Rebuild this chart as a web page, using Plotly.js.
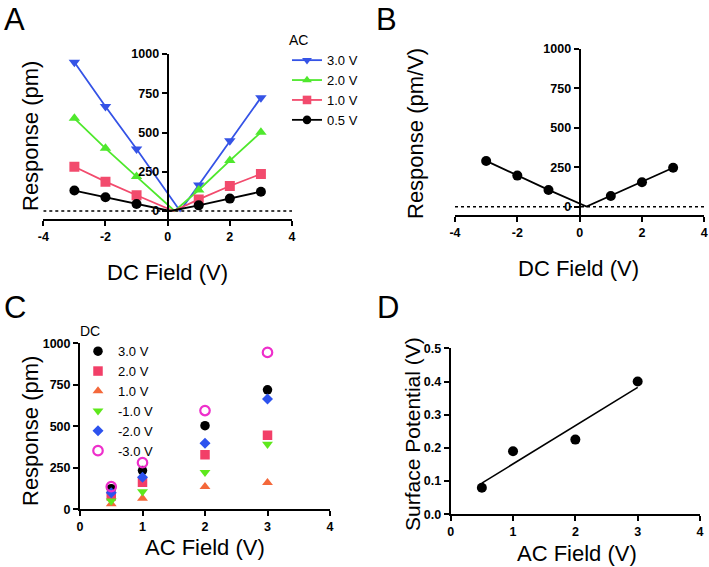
<!DOCTYPE html>
<html>
<head>
<meta charset="utf-8">
<script src="https://cdn.plot.ly/plotly-3.0.1.min.js"></script>
<style>html,body{margin:0;padding:0;background:#fff;}#chart{width:709px;height:567px;}</style>
</head>
<body>
<div id="chart"></div>
<script>
// ---------- DATA ----------
const dcField = [-3, -2, -1, 1, 2, 3];           // DC field (V), panels A & B
const acField = [0.5, 1, 2, 3];                  // AC field (V), panels C & D
const acLabels = ["3.0 V", "2.0 V", "1.0 V", "0.5 V"];
const acValues = [3.0, 2.0, 1.0, 0.5];
// Panel A: response (pm) vs DC field, one series per AC amplitude
const respAC30 = [947, 665, 395, 166, 448, 722];
const respAC20 = [590, 399, 219, 134, 321, 501];
const respAC10 = [282, 187, 100, 74, 159, 236];
const respAC05 = [130, 87, 45, 36, 79, 123];
// Panel D: surface potential (V) vs AC field (also the zero-response DC point in A)
const surfacePotential = [0.08, 0.19, 0.225, 0.40];   // for AC 0.5, 1, 2, 3 V
// Panel B: normalised response (pm/V) vs DC field
const respNorm = [290, 197, 106, 68, 155, 247];
const respNormZeroX = 0.22;
// Panel C: response (pm) vs AC field, one series per DC bias
const dcLabels = ["3.0 V", "2.0 V", "1.0 V", "-1.0 V", "-2.0 V", "-3.0 V"];
const respDC30  = [124, 233, 504, 720];
const respDC20  = [80, 163, 329, 446];
const respDC10  = [32, 66, 136, 160];
const respDCm10 = [50, 106, 223, 392];
const respDCm20 = [100, 193, 398, 665];
const respDCm30 = [136, 281, 595, 945];
// tick values
const ticksDC = [-4, -2, 0, 2, 4];
const ticksAC = [0, 1, 2, 3, 4];
const ticksResp = [0, 250, 500, 750, 1000];
const ticksSP = [0, 0.1, 0.2, 0.3, 0.4, 0.5];

// ---------- LAYOUT HELPERS ----------
const W = 709, H = 567;
const fx = p => p / W;
const fy = p => 1 - p / H;
const FONT = "Liberation Sans, Arial, Helvetica, sans-serif";

// insert the zero-response point (DC = surface potential) between -1 and 1
function withZero(xs, ys, zx) {
  const X = [], Y = [], S = [];
  xs.forEach((x, i) => {
    if (i === 3) { X.push(zx); Y.push(0); S.push(0); }
    X.push(x); Y.push(ys[i]); S.push(10);
  });
  return {X, Y, S};
}
const spByAC = {3.0: surfacePotential[3], 2.0: surfacePotential[2], 1.0: surfacePotential[1], 0.5: surfacePotential[0]};

const aSeries = [respAC30, respAC20, respAC10, respAC05];
const aColors = ["#3553e6", "#4fe82d", "#f24b6d", "#000000"];
const aSymbols = ["triangle-down", "triangle-up", "square", "circle"];

const traces = [];
aSeries.forEach((ys, k) => {
  const d = withZero(dcField, ys, spByAC[acValues[k]]);
  traces.push({
    x: d.X, y: d.Y, name: acLabels[k], type: "scatter", mode: "lines+markers",
    xaxis: "x", yaxis: "y", legend: "legend",
    line: {color: aColors[k], width: 1.8},
    marker: {color: aColors[k], symbol: aSymbols[k], size: d.S, opacity: 1, line: {width: 0}}
  });
});

// Panel B
const dB = withZero(dcField, respNorm, respNormZeroX);
traces.push({
  x: dB.X, y: dB.Y, type: "scatter", mode: "lines+markers", showlegend: false,
  xaxis: "x2", yaxis: "y2",
  line: {color: "#000", width: 1.8},
  marker: {color: "#000", symbol: "circle", size: dB.S, opacity: 1, line: {width: 0}}
});

// Panel C
const cSeries = [respDC30, respDC20, respDC10, respDCm10, respDCm20, respDCm30];
const cColors = ["#000000", "#f23f68", "#f4683a", "#5ee81c", "#2d52ee", "#ee2fcb"];
const cSymbols = ["circle", "square", "triangle-up", "triangle-down", "diamond", "circle-open"];
cSeries.forEach((ys, k) => {
  traces.push({
    x: acField, y: ys, name: dcLabels[k], type: "scatter", mode: "markers",
    xaxis: "x3", yaxis: "y3", legend: "legend2",
    marker: {color: cColors[k], symbol: cSymbols[k], size: k === 4 ? 8.5 : 9.5, opacity: 1,
             line: {color: cColors[k], width: k === 5 ? 2.2 : 0}}
  });
});

// Panel D: points + least-squares line
const n = acField.length;
const mx = acField.reduce((a, b) => a + b, 0) / n;
const my = surfacePotential.reduce((a, b) => a + b, 0) / n;
let sxy = 0, sxx = 0;
acField.forEach((x, i) => { sxy += (x - mx) * (surfacePotential[i] - my); sxx += (x - mx) * (x - mx); });
const slope = sxy / sxx, icpt = my - slope * mx;
const fitX = [Math.min(...acField), Math.max(...acField)];
const fitY = fitX.map(x => icpt + slope * x);
traces.push({
  x: fitX, y: fitY, type: "scatter", mode: "lines", showlegend: false,
  xaxis: "x4", yaxis: "y4", line: {color: "#000", width: 1.6}
});
traces.push({
  x: acField, y: surfacePotential, type: "scatter", mode: "markers", showlegend: false,
  xaxis: "x4", yaxis: "y4", marker: {color: "#000", symbol: "circle", size: 10, opacity: 1}
});

// ---------- AXES ----------
const tickFont = {family: FONT, size: 12.5, color: "#000", weight: "bold"};
function ax(vals, fmt, extra) {
  return Object.assign({
    showline: true, linewidth: 2, linecolor: "#000",
    ticks: "outside", ticklen: 5, tickwidth: 2, tickcolor: "#000",
    showgrid: false, zeroline: false, tickfont: tickFont, fixedrange: true,
    tickmode: "array", tickvals: vals, ticktext: vals.map(v => "<b>" + fmt(v) + "</b>")
  }, extra);
}
const plain = v => String(v);
const oneDec = v => v.toFixed(1);
const domA = {x: [fx(43.3), fx(292)], y: [fy(219), fy(54)]};
const domB = {x: [fx(455), fx(704.3)], y: [fy(215), fy(49)]};
const domC = {x: [fx(80), fx(330)], y: [fy(509.3), fy(343.3)]};
const domD = {x: [fx(450.7), fx(700)], y: [fy(514.3), fy(348.3)]};
const mid = d => (d[0] + d[1]) / 2;

const layout = {
  width: W, height: H,
  margin: {l: 0, r: 0, t: 0, b: 0},
  paper_bgcolor: "#fff", plot_bgcolor: "rgba(0,0,0,0)",
  font: {family: FONT, color: "#000"},
  xaxis: ax(ticksDC, plain, {domain: domA.x, anchor: "y", range: [-4, 4]}),
  yaxis: ax(ticksResp, plain, {domain: domA.y, anchor: "free", position: mid(domA.x), range: [-51, 1000]}),
  xaxis2: ax(ticksDC, plain, {domain: domB.x, anchor: "y2", range: [-4, 4]}),
  yaxis2: ax(ticksResp, plain, {domain: domB.y, anchor: "free", position: mid(domB.x), range: [-53, 1000]}),
  xaxis3: ax(ticksAC, plain, {domain: domC.x, anchor: "y3", range: [0, 4]}),
  yaxis3: ax(ticksResp, plain, {domain: domC.y, anchor: "x3", range: [0, 1000]}),
  xaxis4: ax(ticksAC, plain, {domain: domD.x, anchor: "y4", range: [0, 4]}),
  yaxis4: ax(ticksSP, oneDec, {domain: domD.y, anchor: "x4", range: [0, 0.5]}),
  showlegend: true,
  legend: {
    x: fx(287), y: fy(27), xanchor: "left", yanchor: "top",
    bgcolor: "rgba(0,0,0,0)", borderwidth: 0,
    font: {family: FONT, size: 13, color: "#000"},
    title: {text: "AC", font: {family: FONT, size: 14, color: "#000"}},
    traceorder: "normal"
  },
  legend2: {
    x: fx(78), y: fy(318), xanchor: "left", yanchor: "top",
    bgcolor: "rgba(0,0,0,0)", borderwidth: 0,
    font: {family: FONT, size: 13, color: "#000"},
    title: {text: "DC", font: {family: FONT, size: 14, color: "#000"}},
    traceorder: "normal"
  },
  shapes: [
    {type: "line", xref: "x", yref: "y", x0: -4, x1: 4, y0: 0, y1: 0, line: {color: "#000", width: 1.5, dash: "dot"}},
    {type: "line", xref: "x2", yref: "y2", x0: -4, x1: 4, y0: 0, y1: 0, line: {color: "#000", width: 1.5, dash: "dot"}}
  ],
  annotations: []
};

function note(text, x, y, size, angle, yanchor) {
  layout.annotations.push({
    text: text, xref: "paper", yref: "paper", x: fx(x), y: fy(y),
    xanchor: "center", yanchor: yanchor || "middle", showarrow: false,
    textangle: angle || 0, font: {family: FONT, size: size, color: "#000"}
  });
}
// panel letters
note("A", 15, 0, 31, 0, "top"); note("B", 386, 0, 31, 0, "top");
note("C", 15, 288, 31, 0, "top"); note("D", 388, 288, 31, 0, "top");
// axis titles
note("Response (pm)", 30, 136, 22, -90);
note("DC Field (V)", 167, 272, 22);
note("Response (pm/V)", 415, 134, 22, -90);
note("DC Field (V)", 578, 269, 22);
note("Response (pm)", 30, 431, 22, -90);
note("AC Field (V)", 205, 547, 22);
note("Surface Potential (V)", 412, 434, 21, -90);
note("AC Field (V)", 577, 553, 22);

Plotly.newPlot("chart", traces, layout, {displayModeBar: false, staticPlot: true});
</script>
</body>
</html>
